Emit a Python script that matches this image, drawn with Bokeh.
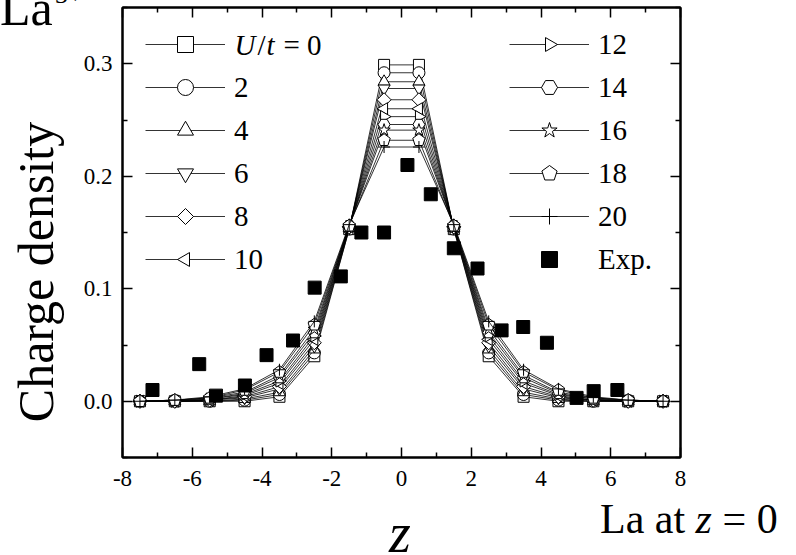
import numpy as np
from bokeh.plotting import figure
from bokeh.layouts import row, column
from bokeh.models import (Range1d, FixedTicker, LinearAxis, Legend, LegendItem,
                          Label, CustomJSTickFormatter, Div)
from bokeh.embed import file_html
from bokeh.resources import INLINE

# ---------------- data ----------------
Z = [-7.5, -6.5, -5.5, -4.5, -3.5, -2.5, -1.5, -0.5,
     0.5, 1.5, 2.5, 3.5, 4.5, 5.5, 6.5, 7.5]

Q_U0  = [0.000, 0.000, 0.000, 0.000, 0.004, 0.040, 0.153, 0.299,
         0.299, 0.153, 0.040, 0.004, 0.000, 0.000, 0.000, 0.000]
Q_U2  = [0.000, 0.000, 0.000, 0.001, 0.006, 0.043, 0.153, 0.292,
         0.292, 0.153, 0.043, 0.006, 0.001, 0.000, 0.000, 0.000]
Q_U4  = [0.000, 0.000, 0.000, 0.002, 0.008, 0.046, 0.154, 0.284,
         0.284, 0.154, 0.046, 0.008, 0.002, 0.000, 0.000, 0.000]
Q_U6  = [0.000, 0.000, 0.001, 0.003, 0.011, 0.049, 0.154, 0.278,
         0.278, 0.154, 0.049, 0.011, 0.003, 0.001, 0.000, 0.000]
Q_U8  = [0.000, 0.000, 0.001, 0.004, 0.013, 0.052, 0.155, 0.268,
         0.268, 0.155, 0.052, 0.013, 0.004, 0.001, 0.000, 0.000]
Q_U10 = [0.000, 0.000, 0.001, 0.005, 0.016, 0.055, 0.155, 0.260,
         0.260, 0.155, 0.055, 0.016, 0.005, 0.001, 0.000, 0.000]
Q_U12 = [0.000, 0.000, 0.002, 0.006, 0.018, 0.058, 0.155, 0.253,
         0.253, 0.155, 0.058, 0.018, 0.006, 0.002, 0.000, 0.000]
Q_U14 = [0.000, 0.001, 0.002, 0.007, 0.021, 0.061, 0.156, 0.246,
         0.246, 0.156, 0.061, 0.021, 0.007, 0.002, 0.001, 0.000]
Q_U16 = [0.000, 0.001, 0.003, 0.008, 0.023, 0.064, 0.156, 0.241,
         0.241, 0.156, 0.064, 0.023, 0.008, 0.003, 0.001, 0.000]
Q_U18 = [0.000, 0.001, 0.003, 0.010, 0.026, 0.068, 0.156, 0.232,
         0.232, 0.156, 0.068, 0.026, 0.010, 0.003, 0.001, 0.000]
Q_U20 = [0.000, 0.001, 0.004, 0.011, 0.028, 0.071, 0.157, 0.226,
         0.226, 0.157, 0.071, 0.028, 0.011, 0.004, 0.001, 0.000]

SERIES = [Q_U0, Q_U2, Q_U4, Q_U6, Q_U8, Q_U10, Q_U12, Q_U14, Q_U16, Q_U18, Q_U20]
SERIES_LABELS = [" ", "2", "4", "6", "8", "10", "12", "14", "16", "18", "20"]

EXP_Z = [-7.14, -5.80, -5.32, -4.49, -3.87, -3.11, -2.49, -1.74, -1.15, -0.50,
         0.17, 0.84, 1.50, 2.18, 2.87, 3.49, 4.17, 5.02, 5.51, 6.19]
EXP_Q = [0.010, 0.033, 0.005, 0.014, 0.041, 0.054, 0.101, 0.111, 0.150, 0.150,
         0.210, 0.184, 0.136, 0.118, 0.063, 0.066, 0.052, 0.003, 0.009, 0.010]

X_TICKS = [-8, -6, -4, -2, 0, 2, 4, 6, 8]
X_MINOR = [-7, -5, -3, -1, 1, 3, 5, 7]
Y_TICKS = [0.0, 0.1, 0.2, 0.3]
Y_MINOR = [-0.05, 0.05, 0.15, 0.25, 0.35]

FONT = "Liberation Serif"

# marker styles: ("scatter", marker, size) or ("ngon", sides, radius, angle)
MARKERS = [("scatter", "square", 11), ("scatter", "circle", 12),
           ("scatter", "triangle", 12), ("scatter", "inverted_triangle", 12),
           ("ngon", 4, 7.0, 0.0), ("ngon", 3, 7.0, np.pi / 2),
           ("ngon", 3, 7.0, -np.pi / 2), ("scatter", "hex", 12),
           ("scatter", "star", 13), ("ngon", 5, 6.5, 0.0), ("scatter", "cross", 12)]

# ---------------- main plot ----------------
p = figure(width=716, height=500, output_backend="svg", toolbar_location=None,
           x_range=Range1d(-8, 8), y_range=Range1d(-0.05, 0.35),
           min_border_left=41, min_border_right=116, min_border_top=7,
           min_border_bottom=43, background_fill_color="white",
           border_fill_color="white", margin=0)
p.xgrid.visible = False
p.ygrid.visible = False
p.outline_line_color = "black"
p.outline_line_width = 2

xt = FixedTicker(ticks=X_TICKS, minor_ticks=X_MINOR)
yt = FixedTicker(ticks=Y_TICKS, minor_ticks=Y_MINOR)


def style_axis(ax, labels=True, standoff=10):
    ax.axis_line_width = 2
    ax.major_tick_in = 10
    ax.major_tick_out = 0
    ax.minor_tick_in = 5
    ax.minor_tick_out = 0
    ax.major_tick_line_width = 1.5
    ax.minor_tick_line_width = 1.5
    ax.major_label_text_font = FONT
    ax.major_label_text_font_size = "23px"
    ax.major_label_text_color = "black"
    ax.major_label_standoff = standoff
    if not labels:
        ax.major_label_text_font_size = "0px"
        ax.major_label_standoff = 0


p.xaxis.ticker = xt
p.yaxis.ticker = yt
p.xaxis.formatter = CustomJSTickFormatter(code="return tick.toFixed(0)")
p.yaxis.formatter = CustomJSTickFormatter(code="return tick.toFixed(1)")
style_axis(p.xaxis[0], True, 13)
style_axis(p.yaxis[0], True, 10)

top_ax = LinearAxis(ticker=xt)
style_axis(top_ax, False)
p.add_layout(top_ax, "above")
right_ax = LinearAxis(ticker=yt)
style_axis(right_ax, False)
p.add_layout(right_ax, "right")

items = []
for q, mk, lb in zip(SERIES, MARKERS, SERIES_LABELS):
    ln = p.line(Z, q, line_color="black", line_width=0.8)
    if mk[0] == "ngon":
        _, nsides, rad, ang = mk
        mr = p.ngon(x=Z, y=q, radius=rad, radius_units="screen", n=nsides,
                    angle=ang, fill_color="white", line_color="black", line_width=1)
    else:
        _, name, sz = mk
        mr = p.scatter(Z, q, marker=name, size=sz, fill_color="white",
                       line_color="black", line_width=1)
    items.append(LegendItem(label=lb, renderers=[ln, mr]))

ex = p.scatter(EXP_Z, EXP_Q, marker="square", size=13, fill_color="black",
               line_color="black")
items.append(LegendItem(label="Exp.", renderers=[ex]))


def make_legend(its, x, y):
    lg = Legend(items=its, location=(x, y), orientation="vertical")
    lg.label_text_font = FONT
    lg.label_text_font_size = "29px"
    lg.label_text_color = "black"
    lg.glyph_width = 80
    lg.glyph_height = 40
    lg.label_height = 40
    lg.spacing = 3
    lg.padding = 0
    lg.margin = 0
    lg.label_standoff = 9
    lg.border_line_alpha = 0
    lg.background_fill_alpha = 0
    return lg


p.add_layout(make_legend(items[:6], 23, 178), "center")
p.add_layout(make_legend(items[6:], 387, 178), "center")

FRAME_BOTTOM = 457  # page px of frame bottom
FRAME_LEFT = 121


def lab(fig, text, x, y, size, style="normal", align="left", baseline="middle"):
    fig.add_layout(Label(x=x, y=y, x_units="screen", y_units="screen",
                         text=text, text_font=FONT, text_font_size=size,
                         text_font_style=style, text_align=align, text_baseline=baseline,
                         text_color="black"))


# "U/t = 0" legend label (mixed italic)
LEG_Y = FRAME_BOTTOM - 44
lab(p, "U", 233 - FRAME_LEFT, LEG_Y, "29px", "italic")
lab(p, "/", 256 - FRAME_LEFT, LEG_Y, "29px", "normal")
lab(p, "t", 265 - FRAME_LEFT, LEG_Y, "29px", "italic")
lab(p, "= 0", 282 - FRAME_LEFT, LEG_Y, "29px", "normal")

# ---------------- titles as HTML text around the plot ----------------
BASE = ("position:absolute;font-family:'Liberation Serif',serif;color:#000;"
        "line-height:1;white-space:nowrap;margin:0;padding:0;")

left_html = (
    '<div style="position:relative;width:80px;height:555px;overflow:hidden;">'
    f'<span style="{BASE}font-size:50px;left:0px;top:-17px;">La</span>'
    f'<span style="{BASE}font-size:26px;left:55px;top:-18px;">3+</span>'
    f'<span style="{BASE}font-size:50px;left:36px;top:272px;'
    'transform:translate(-50%,-50%) rotate(-90deg);">Charge density</span>'
    '</div>'
)
bottom_html = (
    '<div style="position:relative;width:716px;height:55px;overflow:hidden;">'
    f'<span style="{BASE}font-size:56px;font-style:italic;left:320px;top:5px;'
    'transform:translateX(-50%);">z</span>'
    f'<span style="{BASE}font-size:42px;left:520px;top:-2px;">La at <i>z</i> = 0</span>'
    '</div>'
)

left = Div(text=left_html, width=80, height=555, margin=0)
bottom = Div(text=bottom_html, width=716, height=55, margin=0)

layout = row(left, column(p, bottom, margin=0, spacing=0), margin=0, spacing=0)

open("out.html", "w").write(file_html(layout, INLINE))
